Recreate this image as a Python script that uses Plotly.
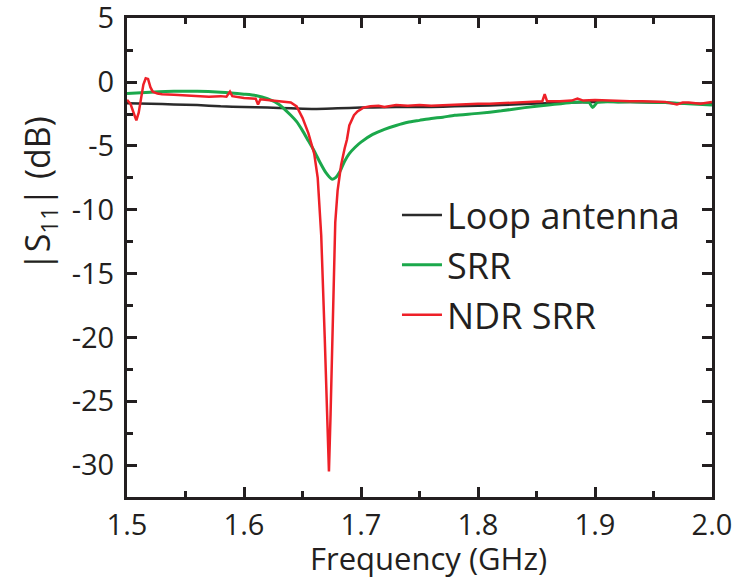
import plotly.graph_objects as go

# Loop antenna reference measurement
loop_freq = [1.50, 1.52, 1.54, 1.56, 1.58, 1.60, 1.62, 1.64, 1.66, 1.68, 1.70,
             1.72, 1.74, 1.76, 1.78, 1.80, 1.82, 1.84, 1.86, 1.88, 1.90, 1.92,
             1.94, 1.96, 1.98, 2.00]
loop_s11 = [-1.65, -1.7, -1.75, -1.8, -1.9, -1.95, -2.0, -2.05, -2.1, -2.05, -2.0,
            -1.97, -1.95, -1.95, -1.9, -1.85, -1.8, -1.72, -1.65, -1.6, -1.55, -1.55,
            -1.58, -1.62, -1.68, -1.72]

# Split-ring resonator
srr_freq = [1.50, 1.52, 1.54, 1.56, 1.58, 1.60, 1.61, 1.62, 1.63, 1.64, 1.645,
            1.65, 1.655, 1.66, 1.665, 1.67, 1.675, 1.678, 1.682, 1.686, 1.69,
            1.695, 1.70, 1.71, 1.72, 1.73, 1.74, 1.75, 1.76, 1.77, 1.78, 1.80,
            1.82, 1.84, 1.86, 1.88, 1.89, 1.895, 1.898, 1.902, 1.92, 1.94, 1.96,
            1.98, 2.00]
srr_s11 = [-0.9, -0.8, -0.72, -0.72, -0.8, -0.95, -1.05, -1.3, -1.75, -2.6, -3.1,
           -3.8, -4.6, -5.4, -6.3, -7.1, -7.6, -7.5, -7.0, -6.2, -5.6,
           -5.1, -4.7, -4.1, -3.7, -3.4, -3.15, -3.0, -2.85, -2.75, -2.6, -2.45,
           -2.25, -2.0, -1.8, -1.6, -1.55, -1.6, -2.0, -1.6, -1.55, -1.55, -1.6,
           -1.7, -1.8]

# Negative-differential-resistance loaded SRR
ndr_freq = [1.500, 1.503, 1.506, 1.508, 1.510, 1.512, 1.514, 1.516, 1.518, 1.520,
            1.522, 1.526, 1.53, 1.54, 1.55, 1.56, 1.57, 1.58, 1.585, 1.588, 1.59,
            1.60, 1.61, 1.612, 1.614, 1.62, 1.63, 1.64, 1.645, 1.650, 1.655,
            1.660, 1.663, 1.666, 1.669, 1.6715, 1.6726, 1.674, 1.676, 1.678,
            1.680, 1.683, 1.686, 1.688, 1.690, 1.694, 1.697, 1.702, 1.708, 1.715,
            1.72, 1.725, 1.73, 1.74, 1.75, 1.76, 1.77, 1.78, 1.79, 1.80, 1.81,
            1.82, 1.83, 1.84, 1.85, 1.855, 1.857, 1.859, 1.87, 1.88, 1.885, 1.89,
            1.90, 1.91, 1.92, 1.93, 1.94, 1.95, 1.96, 1.97, 1.975, 1.98, 1.99, 2.00]
ndr_s11 = [-1.4, -1.7, -2.5, -3.0, -2.4, -1.2, -0.2, 0.3, 0.25, -0.4,
           -0.75, -0.9, -0.95, -1.0, -1.05, -1.1, -1.15, -1.1, -1.15, -0.75, -1.1,
           -1.25, -1.3, -1.75, -1.35, -1.4, -1.5, -1.6, -1.9, -2.8, -4.0,
           -5.6, -7.5, -12.0, -20.0, -27.0, -30.5, -26.0, -18.0, -11.0,
           -8.5, -6.5, -5.2, -4.5, -3.4, -2.6, -2.3, -2.0, -1.9, -1.85,
           -1.95, -1.85, -1.8, -1.85, -1.8, -1.85, -1.8, -1.75, -1.7, -1.7, -1.7,
           -1.65, -1.6, -1.6, -1.55, -1.5, -0.95, -1.5, -1.5, -1.45, -1.3, -1.45,
           -1.4, -1.45, -1.45, -1.5, -1.5, -1.5, -1.55, -1.75, -1.6, -1.6, -1.7, -1.55]

x_ticks = [1.5, 1.6, 1.7, 1.8, 1.9, 2.0]
x_tick_text = ["1.5", "1.6", "1.7", "1.8", "1.9", "2.0"]
y_ticks = [5, 0, -5, -10, -15, -20, -25, -30]
y_tick_text = ["5", "0", "-5", "-10", "-15", "-20", "-25", "-30"]

FONT = "Open Sans"
INK = "#231f20"

fig = go.Figure()
fig.add_trace(go.Scatter(x=loop_freq, y=loop_s11, mode="lines", name="Loop antenna",
                         line=dict(color="#2b2b2b", width=2.5, shape="spline", smoothing=0.6)))
fig.add_trace(go.Scatter(x=srr_freq, y=srr_s11, mode="lines", name="SRR",
                         line=dict(color="#1ba84b", width=3, shape="spline", smoothing=0.6)))
fig.add_trace(go.Scatter(x=ndr_freq, y=ndr_s11, mode="lines", name="NDR SRR",
                         line=dict(color="#ee2028", width=2.5)))

axis_common = dict(
    showline=True, linecolor=INK, linewidth=3, mirror="allticks",
    ticks="inside", ticklen=10, tickwidth=3, tickcolor=INK,
    showgrid=False, zeroline=False, ticklabeloverflow="allow", automargin=False,
    tickfont=dict(family=FONT, size=29, color=INK),
)

fig.update_xaxes(
    range=[1.5, 2.0], tickvals=x_ticks, ticktext=x_tick_text,
    minor=dict(ticks="inside", ticklen=6, tickwidth=3, tickcolor=INK, dtick=0.05),
    **axis_common,
)
fig.update_yaxes(
    range=[-32.5, 5.02], tickvals=y_ticks, ticktext=y_tick_text,
    ticklabelstandoff=4,
    minor=dict(ticks="inside", ticklen=6, tickwidth=3, tickcolor=INK, dtick=2.5),
    **axis_common,
)

fig.add_annotation(
    text="Frequency (GHz)", showarrow=False,
    xref="paper", yref="paper", x=0.516, y=-0.1725, xanchor="center", yanchor="bottom",
    font=dict(family=FONT, size=31, color=INK), borderpad=0,
)
fig.add_annotation(
    text="|S<sub>11</sub>| (dB)", textangle=-90, showarrow=False,
    xref="paper", yref="paper", x=-0.15, y=0.633, xanchor="center", yanchor="middle",
    font=dict(family=FONT, size=34, color=INK),
)

fig.update_layout(
    width=744, height=580,
    margin=dict(l=127, r=32, t=18, b=83),
    paper_bgcolor="white", plot_bgcolor="white",
    showlegend=True,
    legend=dict(x=0.4615, y=0.651, xanchor="left", yanchor="top",
                bgcolor="rgba(0,0,0,0)", borderwidth=0,
                font=dict(family=FONT, size=36, color=INK),
                itemwidth=40, tracegroupgap=0),
)

fig.write_html("out.html")
